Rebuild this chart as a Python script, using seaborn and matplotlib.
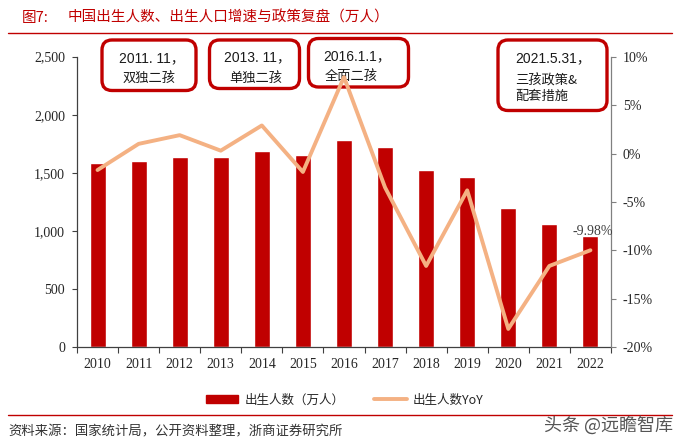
import numpy as np
import matplotlib
matplotlib.use('Agg')
import matplotlib.pyplot as plt
from matplotlib.patches import FancyBboxPatch, Patch
from matplotlib.lines import Line2D
from matplotlib.ticker import FuncFormatter, MultipleLocator
import seaborn as sns

# data
years = ['2010', '2011', '2012', '2013', '2014', '2015', '2016',
         '2017', '2018', '2019', '2020', '2021', '2022']
births = [1588, 1604, 1635, 1640, 1687, 1655, 1786, 1723, 1523, 1465, 1200, 1062, 956]
yoy = [-1.7, 1.0, 1.9, 0.3, 2.9, -1.9, 7.9, -3.5, -11.6, -3.8, -18.1, -11.6, -9.98]

policy_dates = ['2011. 11，', '2013. 11，', '2016.1.1，', '2021.5.31，']
policy_names = ['双独二孩', '单独二孩', '全面二孩', '三孩政策&\n配套措施']

fig_no = '图7:'
title = '中国出生人数、出生人口增速与政策复盘（万人）'
source = '资料来源：国家统计局，公开资料整理，浙商证券研究所'
bar_label = '出生人数（万人）'
line_label = '出生人数YoY'

RED = '#C00000'
ORANGE = '#F4B183'
CJK = ['Noto Sans CJK SC', 'DejaVu Sans']
SANS = ['Liberation Sans', 'Noto Sans CJK SC']

sns.set_theme(style='white')
plt.rcParams['font.family'] = ['Liberation Serif', 'Noto Sans CJK SC']
plt.rcParams['axes.unicode_minus'] = False

fig = plt.figure(figsize=(6.8, 4.47), dpi=100)
ax = fig.add_axes([0.1132, 0.2230, 0.7853, 0.6502])
ax.patch.set_visible(False)

sns.barplot(x=years, y=births, color=RED, saturation=1, width=0.39, ax=ax, zorder=2)
ax2 = ax.twinx()
sns.lineplot(x=np.arange(len(years)), y=yoy, color=ORANGE, linewidth=2.8, ax=ax2, zorder=4)

ax.set_xlim(-0.5, len(years) - 0.5)
ax.set_ylim(0, 2500)
ax.yaxis.set_major_locator(MultipleLocator(500))
ax.yaxis.set_major_formatter(FuncFormatter(lambda v, p: f'{int(v):,}'))
ax2.set_ylim(-20, 10)
ax2.yaxis.set_major_locator(MultipleLocator(5))
ax2.yaxis.set_major_formatter(FuncFormatter(lambda v, p: f'{int(v)}%'))

ax.set_xticks(np.arange(len(years)))
ax.set_xticklabels(years)
ax.set_xticks(np.arange(len(years) + 1) - 0.5, minor=True)
ax.set_xlabel('')
ax.set_ylabel('')
ax2.set_ylabel('')

ax.tick_params(axis='x', which='major', length=0, pad=8, labelsize=10, labelcolor='#262626')
ax.tick_params(axis='x', which='minor', length=4, width=0.8, color='#404040', direction='out', bottom=True)
ax.tick_params(axis='y', length=3.5, width=0.8, color='#404040', direction='out', left=True,
               pad=5, labelsize=10, labelcolor='#262626')
ax2.tick_params(axis='y', length=3.5, width=0.8, color='#808080', direction='out', right=True,
                pad=5, labelsize=10, labelcolor='#262626')

for s in ['top', 'right']:
    ax.spines[s].set_visible(False)
for s in ['top', 'left', 'bottom']:
    ax2.spines[s].set_visible(False)
ax.spines['left'].set_color('#404040')
ax.spines['bottom'].set_color('#404040')
ax2.spines['right'].set_color('#808080')
for s in ['left', 'bottom']:
    ax.spines[s].set_linewidth(0.9)
ax2.spines['right'].set_linewidth(0.9)

# last value label
ax2.annotate(f'{yoy[-1]:.2f}%', (len(years) - 1, yoy[-1]), xytext=(2, 9),
             textcoords='offset points', ha='center', va='bottom',
             fontsize=10, color='#404040', zorder=5)

# policy boxes (inches from the bottom-left corner)
boxes = [(1.02, 3.565, 0.94, 0.505), (2.095, 3.585, 0.90, 0.485),
         (3.085, 3.60, 1.00, 0.485), (4.98, 3.365, 1.09, 0.705)]
text_pos = [(1.19, 3.89, 1.225, 3.745), (2.245, 3.90, 2.29, 3.745),
            (3.235, 3.91, 3.25, 3.76), (5.15, 3.89, 5.15, 3.725)]
for (bx, by, bw, bh), (tx1, ty1, tx2, ty2), d, n in zip(boxes, text_pos, policy_dates, policy_names):
    ax2.add_patch(FancyBboxPatch((bx, by), bw, bh, boxstyle='round,pad=0,rounding_size=0.1',
                                 transform=fig.dpi_scale_trans, fc='white', ec=RED, lw=2.4,
                                 clip_on=False, zorder=1))
    ax2.text(tx1, ty1, d, transform=fig.dpi_scale_trans, ha='left', va='center',
             fontsize=10, family=SANS, color='#1a1a1a', zorder=2)
    ax2.text(tx2, ty2, n, transform=fig.dpi_scale_trans, ha='left', va='top',
             fontsize=9.5, family=CJK, color='#1a1a1a', linespacing=1.25, zorder=2)

# title, rules, legend, source
fig.text(22 / 680, 1 - 18 / 447, fig_no, ha='left', va='center', fontsize=10.5, family=CJK, color=RED)
fig.text(68 / 680, 1 - 18 / 447, title, ha='left', va='center', fontsize=10.5, family=CJK, color=RED)
fig.add_artist(Line2D([8 / 680, 672 / 680], [1 - 32.5 / 447] * 2, color=RED, lw=1.0))
fig.add_artist(Line2D([8 / 680, 672 / 680], [1 - 415 / 447] * 2, color=RED, lw=1.0))

handles = [Patch(facecolor=RED, edgecolor=RED), Line2D([0], [0], color=ORANGE, lw=2.8)]
fig.legend(handles, [bar_label, line_label], loc='center', bbox_to_anchor=(0.507, 1 - 400 / 447),
           ncol=2, frameon=False, prop={'family': CJK, 'size': 9}, handlelength=2.6,
           handleheight=0.6, columnspacing=2.4, handletextpad=0.5, labelcolor='#262626')

fig.text(8 / 680, 1 - 431 / 447, source, ha='left', va='center', fontsize=9.6, family=CJK, color='#333333')
fig.text(673 / 680, 1 - 425 / 447, '头条 @远瞻智库', ha='right', va='center', fontsize=13,
         family=CJK, color='#555555')

fig.savefig('out.png', dpi=100)
